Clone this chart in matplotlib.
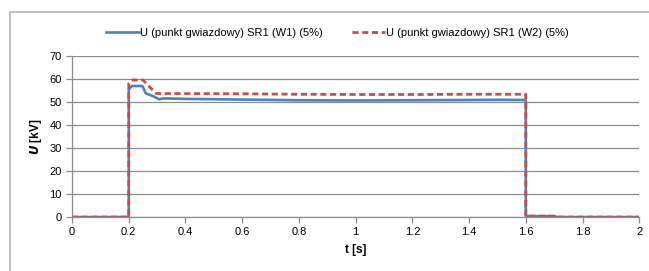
import matplotlib.pyplot as plt
from matplotlib.patches import Rectangle

plt.rcParams["font.family"] = ["Liberation Sans", "DejaVu Sans"]
plt.rcParams["figure.facecolor"] = "white"
plt.rcParams["axes.facecolor"] = "white"

# time axis [s] and voltage [kV]
t_w1 = [0, 0.2, 0.2, 0.211, 0.248, 0.26, 0.285, 0.308, 0.32, 0.4, 0.6,
        0.8, 1.0, 1.2, 1.4, 1.5, 1.6, 1.6, 1.7, 1.71, 2.0]
u_w1 = [0, 0, 55.5, 57.0, 57.0, 53.8, 52.6, 51.2, 51.6, 51.4, 51.1,
        50.8, 50.7, 50.8, 50.9, 51.0, 50.9, 0.4, 0.4, 0, 0]

t_w2 = [0, 0.2, 0.2, 0.213, 0.25, 0.296, 0.31, 0.4, 0.6, 0.8, 1.0,
        1.2, 1.4, 1.6, 1.6, 1.7, 1.71, 2.0]
u_w2 = [0, 0, 58.1, 59.6, 59.6, 53.8, 53.7, 53.7, 53.6, 53.4, 53.3,
        53.3, 53.4, 53.4, 0.4, 0.4, 0, 0]

label_w1 = "U (punkt gwiazdowy) SR1 (W1) (5%)"
label_w2 = "U (punkt gwiazdowy) SR1 (W2) (5%)"

fig = plt.figure(figsize=(6.49, 2.71), dpi=100)
ax = fig.add_axes([0.111, 0.199, 0.874, 0.594])

# excel-like chart area border (top/left visible only)
fig.patches.append(Rectangle((10 / 649, -0.1), 1.2, 1.1 - 11.5 / 271,
                             transform=fig.transFigure, fill=False,
                             edgecolor="#b5b5b5", linewidth=1.2))

ax.plot(t_w1, u_w1, color="#4f81bd", linewidth=1.9, label=label_w1)
ax.plot(t_w2, u_w2, color="#c0504d", linewidth=2.0, linestyle=(0, (2.2, 1.3)),
        label=label_w2)

ax.set_xlim(0, 2)
ax.set_ylim(0, 70)
ax.set_xticks([0, 0.2, 0.4, 0.6, 0.8, 1, 1.2, 1.4, 1.6, 1.8, 2])
ax.set_xticklabels(["0", "0.2", "0.4", "0.6", "0.8", "1", "1.2", "1.4",
                    "1.6", "1.8", "2"])
ax.set_yticks(range(0, 71, 10))
ax.grid(axis="y", color="#8c8c8c", linewidth=0.9)
ax.set_axisbelow(True)

for s in ["top", "right"]:
    ax.spines[s].set_visible(False)
for s in ["left", "bottom"]:
    ax.spines[s].set_color("#8c8c8c")
    ax.spines[s].set_linewidth(0.9)
ax.tick_params(axis="both", colors="#8c8c8c", labelcolor="black",
               labelsize=8, length=4, width=0.9)

ax.set_xlabel("t [s]", fontsize=8.5, fontweight="bold", labelpad=5)
ax.set_ylabel(r"$\mathbfit{U}$ [kV]", fontsize=8.5, fontweight="bold",
              labelpad=4)

fig.legend(loc="center", bbox_to_anchor=(0.52, 0.878), ncol=2,
           frameon=False, fontsize=8, handlelength=3.0,
           columnspacing=2.6, handletextpad=0.1)

fig.savefig("out.png", dpi=100)
